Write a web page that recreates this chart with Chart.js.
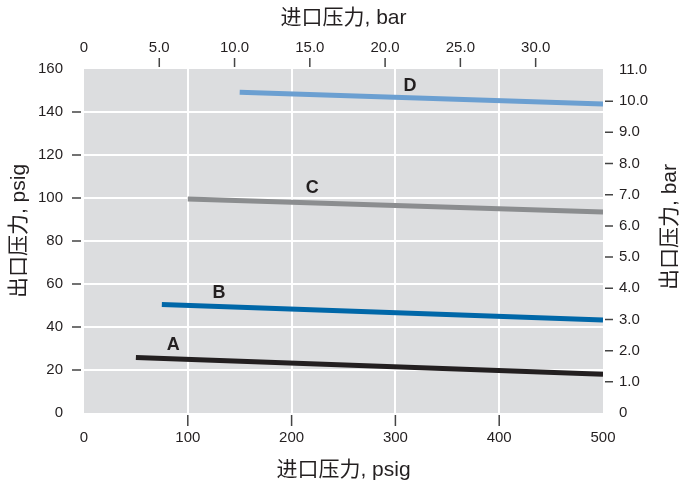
<!DOCTYPE html>
<html>
<head>
<meta charset="utf-8">
<script src="https://cdn.jsdelivr.net/npm/chart.js@4"></script>
<style>
  body { margin: 0; background: #fff; }
</style>
</head>
<body>
<canvas id="myChart" width="682" height="487"></canvas>
<script>
// data (psig)
var names = ["A", "B", "C", "D"];
var colors = ["#231f20", "#0067a8", "#8b8d8f", "#6b9fd1"];
var inletStart = [50, 75, 100, 150];
var inletEnd = [500, 500, 500, 500];
var outletStart = [25.8, 50.5, 99.5, 149.2];
var outletEnd = [18, 43.3, 93.5, 143.7];
var labelX = [86, 130, 220, 314];
var labelY = [31.6, 55.8, 104.7, 152.1];

// tick labels
var psigTicksX = [0, 100, 200, 300, 400, 500];
var psigTicksY = [0, 20, 40, 60, 80, 100, 120, 140, 160];
var barTicksX = [0, 5, 10, 15, 20, 25, 30];
var barTicksY = [0, 1, 2, 3, 4, 5, 6, 7, 8, 9, 10, 11];
var PSI_PER_BAR = 14.5038;

var textColor = '#231f20';
var tickFont = { family: "'Liberation Sans', Arial, sans-serif", size: 15 };
var titleFont = "21px 'Liberation Sans', 'Noto Sans CJK SC', sans-serif";

var datasets = [];
for (var i = 0; i < names.length; i++) {
	datasets.push({
		label: names[i],
		data: [{ x: inletStart[i], y: outletStart[i] }, { x: inletEnd[i], y: outletEnd[i] }],
		borderColor: colors[i],
		borderWidth: 5,
		borderCapStyle: 'butt',
		pointRadius: 0,
		fill: false
	});
}

function setTicks(values) {
	return function (scale) {
		scale.ticks = values.map(function (v) { return { value: v }; });
	};
}
function fixWidth(w) { return function (scale) { scale.width = w; }; }
function fixHeight(h) { return function (scale) { scale.height = h; }; }

// grey plot area, tick dashes, titles, line names
var decor = {
	id: 'decor',
	beforeDraw: function (chart) {
		var a = chart.chartArea, ctx = chart.ctx;
		ctx.save();
		ctx.fillStyle = '#dcdddf';
		ctx.fillRect(a.left, a.top, a.right - a.left, a.bottom - a.top);
		ctx.restore();
	},
	afterDraw: function (chart) {
		var a = chart.chartArea, ctx = chart.ctx, s = chart.scales;
		ctx.save();
		ctx.strokeStyle = '#444';
		ctx.lineWidth = 1.5;
		ctx.beginPath();
		s.y.ticks.forEach(function (t) {
			if (t.value === s.y.min || t.value === s.y.max) return;
			var p = s.y.getPixelForValue(t.value);
			ctx.moveTo(a.left - 12, p); ctx.lineTo(a.left - 3, p);
		});
		s.y2.ticks.forEach(function (t) {
			if (t.value === 0 || t.value === 11) return;
			var p = s.y2.getPixelForValue(t.value);
			ctx.moveTo(a.right + 2, p); ctx.lineTo(a.right + 10, p);
		});
		s.x.ticks.forEach(function (t) {
			if (t.value === s.x.min || t.value === s.x.max) return;
			var p = s.x.getPixelForValue(t.value);
			ctx.moveTo(p, a.bottom + 2); ctx.lineTo(p, a.bottom + 13);
		});
		s.x2.ticks.forEach(function (t) {
			if (t.value === 0) return;
			var p = s.x2.getPixelForValue(t.value);
			ctx.moveTo(p, a.top - 11); ctx.lineTo(p, a.top - 2);
		});
		ctx.stroke();

		// axis titles
		ctx.fillStyle = textColor;
		ctx.font = titleFont;
		ctx.textAlign = 'center';
		ctx.textBaseline = 'middle';
		var cx = (a.left + a.right) / 2;
		ctx.fillText('进口压力, bar', cx, 18);
		ctx.fillText('进口压力, psig', cx, 470);
		ctx.save();
		ctx.translate(19, 231);
		ctx.rotate(-Math.PI / 2);
		ctx.fillText('出口压力, psig', 0, 0);
		ctx.restore();
		ctx.save();
		ctx.translate(670, 227);
		ctx.rotate(-Math.PI / 2);
		ctx.fillText('出口压力, bar', 0, 0);
		ctx.restore();

		// line names
		ctx.font = "bold 18px 'Liberation Sans', Arial, sans-serif";
		for (var i = 0; i < names.length; i++) {
			ctx.fillText(names[i], s.x.getPixelForValue(labelX[i]), s.y.getPixelForValue(labelY[i]));
		}
		ctx.restore();
	}
};

var ctx = document.getElementById('myChart').getContext('2d');
var chart = new Chart(ctx, {
	type: 'line',
	data: { datasets: datasets },
	plugins: [decor],
	options: {
		responsive: false,
		animation: false,
		layout: { padding: 0 },
		plugins: { legend: { display: false }, tooltip: { enabled: false } },
		scales: {
			x: {
				type: 'linear', position: 'bottom', min: 0, max: 500,
				afterBuildTicks: setTicks(psigTicksX),
				afterFit: fixHeight(74),
				border: { display: false },
				grid: {
					drawTicks: false, lineWidth: 2,
					color: function (c) { return (c.tick && (c.tick.value === 0 || c.tick.value === 500)) ? 'rgba(0,0,0,0)' : '#ffffff'; }
				},
				ticks: { color: textColor, font: tickFont, padding: 16, maxRotation: 0 }
			},
			x2: {
				type: 'linear', position: 'top', min: 0, max: 500 / PSI_PER_BAR,
				afterBuildTicks: setTicks(barTicksX),
				afterFit: fixHeight(69),
				border: { display: false },
				grid: { drawTicks: false, drawOnChartArea: false },
				ticks: {
					color: textColor, font: tickFont, padding: 12, maxRotation: 0,
					callback: function (v) { return v === 0 ? '0' : v.toFixed(1); }
				}
			},
			y: {
				type: 'linear', position: 'left', min: 0, max: 160,
				afterBuildTicks: setTicks(psigTicksY),
				afterFit: fixWidth(84),
				border: { display: false },
				grid: {
					drawTicks: false, lineWidth: 2,
					color: function (c) { return (c.tick && (c.tick.value === 0 || c.tick.value === 160)) ? 'rgba(0,0,0,0)' : '#ffffff'; }
				},
				ticks: { color: textColor, font: tickFont, padding: 21 }
			},
			y2: {
				type: 'linear', position: 'right', min: 0, max: 160 / PSI_PER_BAR,
				afterBuildTicks: setTicks(barTicksY),
				afterFit: fixWidth(79),
				border: { display: false },
				grid: { drawTicks: false, drawOnChartArea: false },
				ticks: {
					color: textColor, font: tickFont, padding: 16,
					callback: function (v) { return v === 0 ? '0' : v.toFixed(1); }
				}
			}
		}
	}
});
</script>
</body>
</html>
